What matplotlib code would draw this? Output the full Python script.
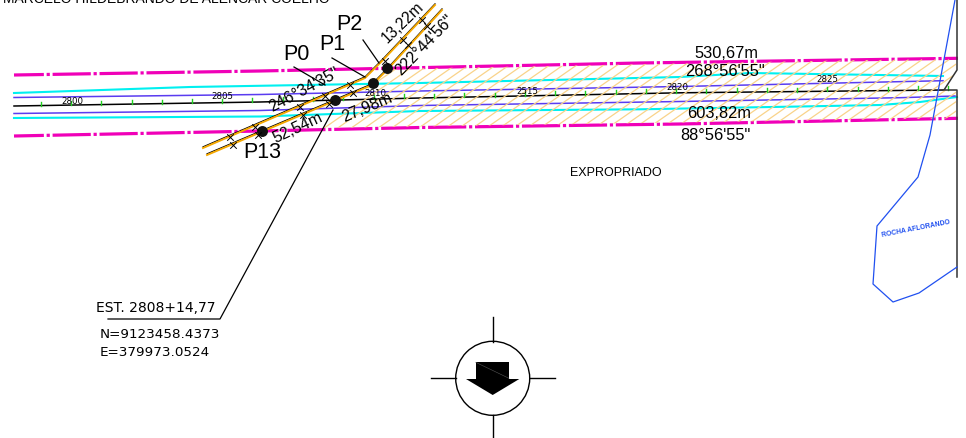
"""Plan view of the expropriated strip, drawn in pixel coordinates of the sheet."""
import matplotlib
matplotlib.use("Agg")
import matplotlib.pyplot as plt
from matplotlib.patches import Circle, Polygon
import numpy as np

plt.rcParams["font.family"] = ["Liberation Sans", "DejaVu Sans"]
plt.rcParams["lines.scale_dashes"] = False

W, H, DPI = 966, 438, 100

# strip lines
magenta_top = ([14, 260, 640, 958], [75, 71, 63, 58.3])
magenta_bot = ([14, 260, 420, 680, 958], [136, 131, 127.5, 124, 118.3])
cyan_top = ([14, 190, 420, 680, 750, 880, 943], [93, 87, 83, 77, 73, 75, 76])
cyan_bot = ([14, 260, 420, 640, 800, 880, 920, 957], [118, 116.5, 111, 109.3, 106.5, 105, 102, 97])
purple_top = ([14, 260, 420, 680, 943], [97.5, 94.5, 91, 86.5, 80.7])
purple_bot = ([14, 260, 420, 680, 900, 955], [113.5, 110.5, 105.5, 101.5, 97.7, 96])
center = ([14, 260, 420, 680, 944], [106, 102, 98, 92.8, 90])

# stations
tick_x = [41, 71, 101, 132, 162, 192, 222, 252, 283, 313, 343, 374, 404, 434, 464, 495, 525,
          555, 585, 616, 646, 676, 706, 737, 767, 797, 827, 858, 888, 918, 948]
station_labels = ["2800", "2805", "2810", "2515", "2820", "2825"]
station_x = [72, 222, 375, 527, 677, 827]
station_y = [101.5, 96.5, 93.5, 92, 87.5, 79.5]

# access road
road_upper = ([203, 365, 383, 435], [148, 78, 60, 5])
road_lower = ([207, 372, 387, 442], [155, 85, 70, 10])
dots_x = [262, 335, 373, 387]
dots_y = [131, 99.5, 83, 68]
cross_x = [230, 233, 255, 258, 300, 303, 325, 329, 350, 353, 385, 403, 408, 422, 427]
cross_y = [137, 145, 127, 135, 107, 115, 96, 104, 85, 93, 61, 40, 45, 20, 26]

# other outlines
rock_x = [955, 930, 918, 877, 873, 893, 919, 957]
rock_y = [0, 135, 177, 226, 284, 302, 293, 267]
hatch_outline = [(322, 128), (372, 85), (387, 69), (956, 58.3), (956, 70), (944, 90),
                 (956, 90), (956, 118.3)]
leaders = [([363, 379], [40, 63]), ([332, 365], [58, 77]), ([294, 325], [67, 85]),
           ([108, 220, 333], [319, 319, 110])]
right_edge_top = ([957, 957, 944, 957, 957], [0, 70, 90, 90, 277])

# text: string, x, y, size, rotation
notes = [
    ("530,67m", 726, 53, 11.8, 0), ("268°56'55\"", 725, 72, 11.8, 0),
    ("603,82m", 719, 114, 11.8, 0), ("88°56'55\"", 715, 135, 11.8, 0),
    ("13,22m", 403, 22, 11.2, 44), ("222°44'56\"", 425, 45, 11.5, 46),
    ("246°34'35\"", 304, 90, 11.5, 28), ("52,54m", 298, 128, 11.5, 25),
    ("27,98m", 367, 108, 11.5, 23),
    ("P2", 349, 25, 15.5, 0), ("P1", 332, 45, 15.5, 0), ("P0", 296, 55, 15.5, 0), ("P13", 262, 153, 15.5, 0),
    ("EXPROPRIADO", 616, 173, 9, 0),
]
left_notes = [("EST. 2808+14,77", 96, 308, 10.0), ("N=9123458.4373", 100, 335, 9.7),
              ("E=379973.0524", 100, 352, 9.7)]

fig = plt.figure(figsize=(W / DPI, H / DPI), dpi=DPI)
ax = fig.add_axes([0, 0, 1, 1])
ax.set_xlim(0, W)
ax.set_ylim(H, 0)
ax.axis("off")

# hatching of the expropriated area
clip = Polygon(hatch_outline, closed=True, transform=ax.transData, facecolor="none", edgecolor="none")
ax.add_patch(clip)
for x0 in np.arange(280, 1050, 13.5):
    ln, = ax.plot([x0, x0 + 115], [140, 60], color="#f9d38a", lw=0.9, zorder=3)
    ln.set_clip_path(clip)

dash = (6, (27.5, 2, 2.3, 2))
for xs, ys in (magenta_top, magenta_bot):
    ax.plot(xs, ys, color="#f000b8", lw=2.3, ls=dash, zorder=2)
for xs, ys in (cyan_top, cyan_bot):
    ax.plot(xs, ys, color="#00f0f0", lw=1.5, zorder=2)
for xs, ys in (purple_top, purple_bot):
    ax.plot(xs, ys, color="#5a3cf0", lw=1.1, zorder=2)
ax.plot(*center, color="black", lw=1.1, zorder=2)

tick_y = np.interp(tick_x, center[0], center[1])
for x, y in zip(tick_x, tick_y):
    ax.plot([x, x], [y - 4, y], color="#20d020", lw=1.0, zorder=4)
for lab, x, y in zip(station_labels, station_x, station_y):
    ax.text(x, y, lab, fontsize=6.2, family="DejaVu Sans", ha="center", va="center", zorder=6)

for xs, ys in (road_upper, road_lower):
    ax.plot(xs, np.array(ys) - 1.2, color="black", lw=0.8, zorder=5)
    ax.plot(xs, ys, color="#f5a800", lw=1.4, zorder=5)
ax.scatter(dots_x, dots_y, s=62, color="#111111", zorder=6, linewidths=0)
ax.scatter(cross_x, cross_y, s=22, marker="x", color="black", linewidths=0.7, zorder=6)

for xs, ys in leaders:
    ax.plot(xs, ys, color="black", lw=0.9, zorder=5)
ax.plot(*right_edge_top, color="#333333", lw=1.1, zorder=5)
ax.plot(rock_x, rock_y, color="#2050f0", lw=0.9, zorder=5)

for s, x, y, fs, rot in notes:
    ax.text(x, y, s, fontsize=fs, rotation=rot, ha="center", va="center",
            rotation_mode="anchor", zorder=7)
for s, x, y, fs in left_notes:
    ax.text(x, y, s, fontsize=fs, family="DejaVu Sans", ha="left", va="center", zorder=7)
ax.text(916, 229, "ROCHA AFLORANDO", fontsize=4.9, rotation=11, ha="center", va="center",
        color="#2050f0", weight="bold", rotation_mode="anchor")
ax.text(3, 3, "MARCELO HILDEBRANDO DE ALENCAR COELHO", fontsize=10, ha="left", va="baseline")

# north arrow
ax.add_patch(Circle((492.7, 378.3), 37, facecolor="white", edgecolor="black", lw=1.0))
for xs, ys in (([492.7, 492.7], [316.7, 341.7]), ([492.7, 492.7], [415, 437]),
               ([430.7, 455.7], [378.3, 378.3]), ([530, 555], [378.3, 378.3])):
    ax.plot(xs, ys, color="black", lw=1.0)
ax.add_patch(Polygon([(475.7, 362.3), (509, 362.3), (509, 379), (475.7, 379)], color="black", lw=0))
ax.add_patch(Polygon([(466, 379), (519.3, 379), (492.7, 395)], color="black", lw=0))
ax.plot([475.7, 509], [362.3, 378.3], color="#555555", lw=0.4)

fig.savefig("out.png", dpi=DPI, facecolor="white")
